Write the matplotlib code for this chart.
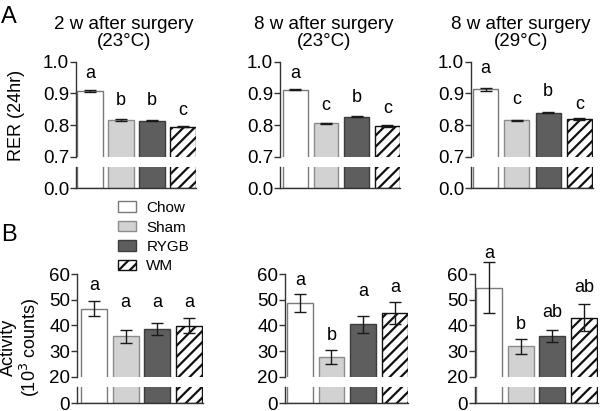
import matplotlib
matplotlib.use('Agg')
import numpy as np
import matplotlib.pyplot as plt
from matplotlib.patches import Patch

plt.rcParams['font.family'] = ['Liberation Sans', 'DejaVu Sans']
plt.rcParams['hatch.linewidth'] = 1.6

# ---- data ----
groups = ['Chow', 'Sham', 'RYGB', 'WM']
titles = ['2 w after surgery\n(23°C)', '8 w after surgery\n(23°C)', '8 w after surgery\n(29°C)']

rer_2w_23 = [0.907, 0.816, 0.814, 0.795]
rer_2w_23_err = [0.003, 0.002, 0.002, 0.001]
rer_8w_23 = [0.912, 0.805, 0.826, 0.797]
rer_8w_23_err = [0.002, 0.002, 0.002, 0.002]
rer_8w_29 = [0.913, 0.815, 0.839, 0.818]
rer_8w_29_err = [0.004, 0.002, 0.002, 0.003]

act_2w_23 = [46.4, 35.7, 38.6, 39.9]
act_2w_23_err = [2.9, 2.4, 2.3, 3.0]
act_8w_23 = [48.6, 27.8, 40.4, 44.9]
act_8w_23_err = [3.5, 2.7, 3.4, 4.3]
act_8w_29 = [54.6, 31.8, 35.7, 43.0]
act_8w_29_err = [9.9, 3.0, 2.3, 5.2]

rer_letters = [['a', 'b', 'b', 'c'], ['a', 'c', 'b', 'c'], ['a', 'c', 'b', 'c']]
act_letters = [['a', 'a', 'a', 'a'], ['a', 'b', 'a', 'a'], ['a', 'b', 'ab', 'ab']]

# letter heights (data units)
rer_letter_y = [[0.949, 0.862, 0.862, 0.831], [0.947, 0.847, 0.874, 0.837], [0.965, 0.867, 0.893, 0.852]]
act_letter_y = [[53.8, 47.3, 47.3, 47.3], [55.7, 34.3, 51.6, 53.1], [66.1, 38.5, 43.4, 53.1]]

# ---- styles ----
faces = ['white', '#d2d2d2', '#5e5e5e', 'white']
edges = ['#7a7a7a', '#8c8c8c', '#3c3c3c', '#111111']
hatches = [None, None, None, '///']
axcol = '#333333'

W, H = 600, 411
fig = plt.figure(figsize=(6.0, 4.11), dpi=100)


def fx(p):
    return p / W


def fy(p):
    return 1 - p / H


def draw_panel(xl, yl, means, errs, letters, letter_y, lims, low_top, ticks, ticklabels, zero_label):
    """xl = (axis px, first bar px, pitch px, bar width px); yl = (top, break top, break bottom, zero) px"""
    ax_px, bar0, pitch, bw = xl
    width = bw / pitch
    left = -(bw / 2 + (bar0 - ax_px)) / pitch
    right = 3 + width / 2 + 0.02
    wpx = (right - left) * pitch
    top, brk1, brk2, zero = yl
    x = np.arange(len(means))

    axu = fig.add_axes([fx(ax_px), fy(brk1), fx(wpx), (brk1 - top) / H])
    axl = fig.add_axes([fx(ax_px), fy(zero), fx(wpx), (zero - brk2) / H])
    for ax in (axu, axl):
        for i in range(len(means)):
            ax.bar(x[i], means[i], width=width, color=faces[i], edgecolor=edges[i],
                   hatch=hatches[i], linewidth=1.0)
        ax.set_xlim(left, right)
        ax.set_xticks([])
        ax.spines['top'].set_visible(False)
        ax.spines['right'].set_visible(False)
        for s in ('left', 'bottom'):
            ax.spines[s].set_color(axcol)
            ax.spines[s].set_linewidth(1.0)
        ax.tick_params(axis='y', length=4, width=1, color=axcol, labelsize=13.5, pad=1.0)
        ax.patch.set_visible(False)

    axu.spines['bottom'].set_visible(False)
    axu.set_ylim(*lims)
    axu.set_yticks(ticks)
    axu.set_yticklabels(ticklabels)
    eb = axu.errorbar(x, means, yerr=errs, fmt='none', ecolor='#1a1a1a',
                      elinewidth=1.0, capsize=4, capthick=1.0)
    for art in list(eb.lines[1]) + list(eb.lines[2]):
        art.set_clip_on(False)
    for i in range(len(means)):
        axu.text(x[i], letter_y[i], letters[i], ha='center', va='baseline',
                 fontsize=13, clip_on=False)

    axl.set_ylim(0, low_top)
    axl.set_yticks([0])
    axl.set_yticklabels([zero_label])
    return axu, axl


rer_sets = [(rer_2w_23, rer_2w_23_err), (rer_8w_23, rer_8w_23_err), (rer_8w_29, rer_8w_29_err)]
act_sets = [(act_2w_23, act_2w_23_err), (act_8w_23, act_8w_23_err), (act_8w_29, act_8w_29_err)]

rer_x = [(76, 77, 31.0, 25.5), (280, 283, 30.7, 24.5), (471, 473, 31.3, 25.0)]
act_x = [(77, 81, 31.7, 26.0), (285, 287, 31.7, 25.5), (475, 476, 31.7, 26.0)]
rer_y = (61.7, 156.7, 167.3, 188.0)
act_y = (274.0, 376.7, 387.0, 403.0)

title_x = [124, 324, 521]

for k in range(3):
    draw_panel(rer_x[k], rer_y, rer_sets[k][0], rer_sets[k][1], rer_letters[k], rer_letter_y[k],
               (0.7, 1.0), 0.07, [0.7, 0.8, 0.9, 1.0], ['0.7', '0.8', '0.9', '1.0'], '0.0')
    draw_panel(act_x[k], act_y, act_sets[k][0], act_sets[k][1], act_letters[k], act_letter_y[k],
               (20, 60), 5, [20, 30, 40, 50, 60], ['20', '30', '40', '50', '60'], '0')
    fig.text(fx(title_x[k]), fy(16), titles[k], ha='center', va='top', fontsize=13.5,
             linespacing=1.0)

fig.text(fx(17), fy(115), 'RER (24hr)', rotation=90, ha='center', va='center', fontsize=13)
fig.text(fx(21), fy(347), 'Activity\n(10$^3$ counts)', rotation=90, ha='center', va='center',
         fontsize=13, linespacing=1.1)
fig.text(fx(1), fy(6), 'A', ha='left', va='top', fontsize=17)
fig.text(fx(1), fy(224), 'B', ha='left', va='top', fontsize=17)

handles = [Patch(facecolor=faces[i], edgecolor=edges[i], hatch=hatches[i], linewidth=1.0)
           for i in range(4)]
fig.legend(handles, groups, loc='upper left', bbox_to_anchor=(fx(118), fy(201)), frameon=False,
           fontsize=11, handlelength=1.2, handleheight=0.7, labelspacing=0.36,
           handletextpad=0.65, borderpad=0, borderaxespad=0)

fig.savefig('out.png', dpi=100)
